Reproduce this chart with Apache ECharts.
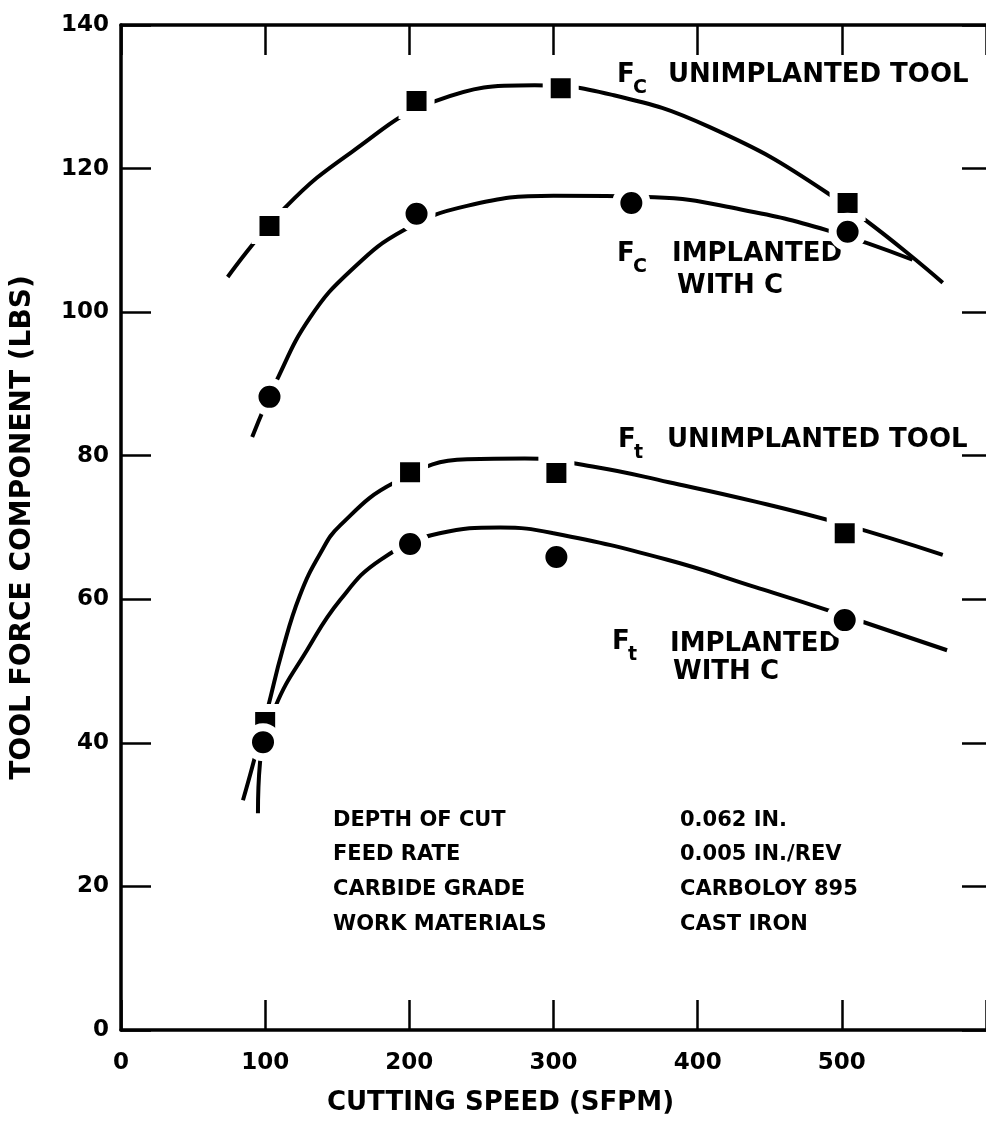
<!DOCTYPE html>
<html>
<head>
<meta charset="utf-8">
<title>Tool force vs cutting speed</title>
<script src="https://cdn.jsdelivr.net/npm/echarts@6/dist/echarts.min.js"></script>
<style>
	html, body { margin: 0; padding: 0; background: #fff; }
	#show { width: 986px; height: 1121px; }
</style>
</head>
<body>
<div id="show"></div>
<script>
// measured points (cutting speed, force)
var fcUnimplanted = [[103, 112], [205, 129.4], [305, 131.2], [504, 115.2]];
var fcImplanted = [[103, 88.2], [205, 113.7], [354, 115.2], [504, 111.2]];
var ftUnimplanted = [[100, 42.9], [200.5, 77.7], [302, 77.6], [502, 69.2]];
var ftImplanted = [[98.5, 40.1], [200.5, 67.7], [302, 65.9], [502, 57.1]];

// hand drawn fitted curves
var fcUnimplantedCurve = [[74, 104.9], [114, 114.6], [160, 122.3], [218, 129.4], [287, 131.6],
	[340, 130.3], [408, 125.8], [490, 116.6], [570, 104.1]];
var fcImplantedCurve = [[91, 82.6], [108, 90.5], [131, 99.2], [160, 105.9], [196, 111.4], [240, 114.8],
	[300, 116.2], [370, 116.0], [430, 114.3], [490, 111.4], [549, 107.3]];
var ftUnimplantedCurve = [[84.6, 32.0], [91, 36.6], [102, 45.0], [112, 52.9], [124, 60.5], [138, 66.3],
	[152, 70.3], [190, 76.3], [240, 79.5], [280, 79.6], [330, 78.4], [380, 76.3], [440, 73.6],
	[500, 70.5], [570, 66.2]];
var ftImplantedCurve = [[95, 30.2], [96.4, 37.2], [107, 45.0], [129, 52.9], [152, 59.9], [180, 65.5],
	[221, 69.2], [263, 70.0], [300, 69.2], [379, 65.5], [440, 61.7], [490, 58.5], [573, 52.9]];

var xTicks = [0, 100, 200, 300, 400, 500];
var conditionNames = ['DEPTH OF CUT', 'FEED RATE', 'CARBIDE GRADE', 'WORK MATERIALS'];
var conditionValues = ['0.062 IN.', '0.005 IN./REV', 'CARBOLOY 895', 'CAST IRON'];

var FONT = 'DejaVu Sans';
var myEchart = echarts.init(document.getElementById('show'));

function curve(data) {
	return {
		type: 'line',
		data: data,
		smooth: 0.45,
		showSymbol: false,
		symbol: 'none',
		lineStyle: { color: '#000', width: 4 },
		silent: true,
		z: 2
	};
}

// marker with a white ring so the curve looks broken round it
function marks(data, shape, size) {
	return {
		type: 'scatter',
		data: data,
		symbol: shape,
		symbolSize: size,
		itemStyle: { color: '#000', borderColor: '#fff', borderWidth: 8, opacity: 1 },
		z: 3
	};
}

// text labels on the plot
var graphics = [];
function txt(x, y, s, size) {
	graphics.push({
		type: 'text',
		left: x,
		top: y - size * 0.6,
		style: { text: s, font: 'bold ' + size + 'px "' + FONT + '"', fill: '#000' }
	});
}
// F with subscript
function fsub(x, y, sub) {
	txt(x, y, 'F', 26);
	txt(x + 16, y + 12, sub, 19);
}

fsub(617, 78, 'C');
txt(668, 78, 'UNIMPLANTED TOOL', 26);
fsub(617, 257, 'C');
txt(672, 257, 'IMPLANTED', 26);
txt(677, 289, 'WITH C', 26);
fsub(618, 443, 't');
txt(667, 443, 'UNIMPLANTED TOOL', 26);
fsub(612, 645, 't');
txt(670, 647, 'IMPLANTED', 26);
txt(673, 675, 'WITH C', 26);

var rowY = [823, 857, 892, 927];
for (var i = 0; i < conditionNames.length; i++) {
	txt(333, rowY[i], conditionNames[i], 21);
	txt(680, rowY[i], conditionValues[i], 21);
}

var axisLine = { show: true, onZero: false, lineStyle: { color: '#000', width: 3.5 } };
var tickStyle = { color: '#000', width: 2.5 };

var option = {
	animation: false,
	backgroundColor: '#fff',
	textStyle: { fontFamily: FONT },
	grid: { left: 121, right: 0, top: 25, bottom: 91, containLabel: false, outerBoundsMode: 'none' },
	xAxis: [{
		type: 'value',
		position: 'bottom',
		min: 0,
		max: 600,
		interval: 100,
		axisLine: axisLine,
		axisTick: { show: true, inside: true, length: 30, lineStyle: tickStyle },
		axisLabel: {
			color: '#000', fontSize: 23, fontWeight: 'bold', margin: 22,
			formatter: function (v) { return xTicks.indexOf(v) >= 0 ? String(v) : ''; }
		},
		splitLine: { show: false },
		name: 'CUTTING SPEED (SFPM)',
		nameLocation: 'middle',
		nameGap: 60,
		nameTextStyle: { color: '#000', fontSize: 26, fontWeight: 'bold', padding: [0, 106, 0, 0] }
	}, {
		type: 'value',
		position: 'top',
		min: 0,
		max: 600,
		interval: 100,
		axisLine: axisLine,
		axisTick: { show: true, inside: true, length: 30, lineStyle: tickStyle },
		axisLabel: { show: false },
		splitLine: { show: false }
	}],
	yAxis: [{
		type: 'value',
		position: 'left',
		min: 0,
		max: 140,
		interval: 20,
		axisLine: axisLine,
		axisTick: { show: true, inside: true, length: 30, lineStyle: tickStyle },
		axisLabel: { color: '#000', fontSize: 23, fontWeight: 'bold', margin: 12 },
		splitLine: { show: false },
		name: 'TOOL FORCE COMPONENT (LBS)',
		nameLocation: 'middle',
		nameRotate: 90,
		nameGap: 84,
		nameTextStyle: { color: '#000', fontSize: 28, fontWeight: 'bold' }
	}, {
		type: 'value',
		position: 'right',
		min: 0,
		max: 140,
		interval: 20,
		axisLine: { show: false, onZero: false },
		axisTick: { show: true, inside: true, length: 24, lineStyle: tickStyle },
		axisLabel: { show: false },
		splitLine: { show: false }
	}],
	series: [
		curve(fcUnimplantedCurve),
		curve(fcImplantedCurve),
		curve(ftUnimplantedCurve),
		curve(ftImplantedCurve),
		marks(fcUnimplanted, 'rect', 28),
		marks(fcImplanted, 'circle', 30),
		marks(ftUnimplanted, 'rect', 28),
		marks(ftImplanted, 'circle', 30)
	],
	graphic: graphics
};

myEchart.setOption(option);
</script>
</body>
</html>
